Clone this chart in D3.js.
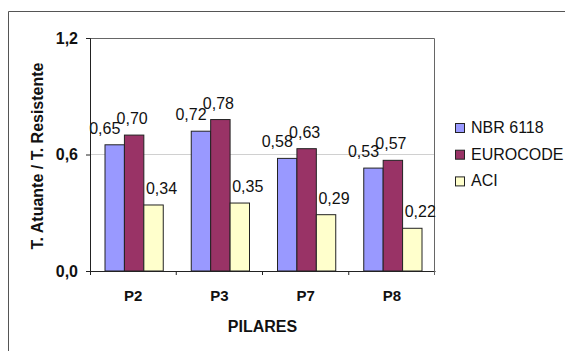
<!DOCTYPE html>
<html>
<head>
<meta charset="utf-8">
<script src="https://cdn.jsdelivr.net/npm/d3@7"></script>
<style>
  body { margin: 0; background: #fff; }
  text { font-family: "Liberation Sans", Arial, sans-serif; fill: #111; }
</style>
</head>
<body>
<div id="chart"></div>
<script>
// Chart data
const pilares = ["P2", "P3", "P7", "P8"];
const series = ["NBR 6118", "EUROCODE", "ACI"];
const nbr = [0.65, 0.72, 0.58, 0.53];
const eurocode = [0.70, 0.78, 0.63, 0.57];
const aci = [0.34, 0.35, 0.29, 0.22];
const yTicks = [0, 0.6, 1.2];

const colors = ["#9999FF", "#993366", "#FFFFCC"];
const labelDx = [-10, -2, 8];

const W = 565, H = 351;
const margin = { top: 38, left: 90, right: 130, bottom: 80 };
const width = 435 - margin.left;
const height = 271 - margin.top;

const svg = d3.select("#chart").append("svg")
    .attr("width", W)
    .attr("height", H);

// Outer frame (left and top edges visible)
svg.append("path")
    .attr("d", `M8.5,${H} L8.5,11.5 L${W},11.5`)
    .attr("fill", "none")
    .attr("stroke", "#555")
    .attr("stroke-width", 1);

const g = svg.append("g")
    .attr("transform", `translate(${margin.left},${margin.top})`);

const x0 = d3.scaleBand().domain(pilares).range([0, width]).paddingInner(0).paddingOuter(0);
const x1 = d3.scaleBand().domain(series).range([15, x0.bandwidth() - 13]);
const y = d3.scaleLinear().domain([0, 1.2]).range([height, 0]);

// Gridline
g.selectAll(".grid")
    .data(yTicks.filter(t => t > 0 && t < 1.2))
    .enter().append("line")
    .attr("x1", 0).attr("x2", width)
    .attr("y1", d => y(d)).attr("y2", d => y(d))
    .attr("stroke", "#d0d0d0");

// Plot frame (top & right)
g.append("path")
    .attr("d", `M0,0.5 H${width - 0.5} V${height}`)
    .attr("fill", "none")
    .attr("stroke", "#666");

const rows = pilares.map((p, i) => ({
    p, vals: [nbr[i], eurocode[i], aci[i]]
}));

const groups = g.selectAll(".grp")
    .data(rows).enter().append("g")
    .attr("transform", d => `translate(${x0(d.p)},0)`);

groups.selectAll("rect")
    .data(d => d.vals.map((v, k) => ({ v, k })))
    .enter().append("rect")
    .attr("x", d => x1(series[d.k]))
    .attr("y", d => y(d.v))
    .attr("width", x1.bandwidth())
    .attr("height", d => height - y(d.v))
    .attr("fill", d => colors[d.k])
    .attr("stroke", "#222")
    .attr("stroke-width", 1);

groups.selectAll(".lbl")
    .data(d => d.vals.map((v, k) => ({ v, k })))
    .enter().append("text")
    .attr("x", d => x1(series[d.k]) + x1.bandwidth() / 2 + labelDx[d.k])
    .attr("y", d => y(d.v) - 11)
    .attr("text-anchor", "middle")
    .style("font-size", "16px")
    .text(d => d3.format(".2f")(d.v).replace(".", ","));

// Y axis
const yAxis = g.append("g")
    .call(d3.axisLeft(y).tickValues(yTicks).tickSize(4).tickPadding(8)
        .tickFormat(d => d3.format(".1f")(d).replace(".", ",")));
yAxis.select(".domain").attr("stroke", "#222");
yAxis.selectAll(".tick line").attr("stroke", "#222");
yAxis.selectAll("text")
    .style("font-size", "16px")
    .style("font-weight", "bold")
    .style("font-family", "'Liberation Sans', Arial, sans-serif")
    .attr("fill", "#111");

// X axis
const xAxis = g.append("g")
    .attr("transform", `translate(0,${height})`)
    .call(d3.axisBottom(x0).tickSize(0).tickPadding(19));
xAxis.select(".domain").attr("stroke", "#222");
xAxis.selectAll("text")
    .style("font-size", "15px")
    .style("font-weight", "bold")
    .style("font-family", "'Liberation Sans', Arial, sans-serif")
    .attr("fill", "#111");

// category separator ticks
g.selectAll(".xsep")
    .data(pilares.slice(1))
    .enter().append("line")
    .attr("x1", d => x0(d)).attr("x2", d => x0(d))
    .attr("y1", height).attr("y2", height + 4)
    .attr("stroke", "#222");
g.append("line")
    .attr("x1", 0.5).attr("x2", 0.5)
    .attr("y1", height).attr("y2", height + 4)
    .attr("stroke", "#222");
g.append("line")
    .attr("x1", width - 0.5).attr("x2", width - 0.5)
    .attr("y1", height).attr("y2", height + 4)
    .attr("stroke", "#666");

// Axis titles
svg.append("text")
    .attr("x", margin.left + width / 2)
    .attr("y", 332)
    .attr("text-anchor", "middle")
    .style("font-size", "16px")
    .style("font-weight", "bold")
    .text("PILARES");

svg.append("text")
    .attr("transform", `translate(43,156) rotate(-90)`)
    .attr("text-anchor", "middle")
    .style("font-size", "16px")
    .style("font-weight", "bold")
    .text("T. Atuante / T. Resistente");

// Legend
const legend = svg.append("g").attr("transform", "translate(455,133)");
const li = legend.selectAll("g").data(series).enter().append("g")
    .attr("transform", (d, i) => `translate(0,${i * 26.7})`);
li.append("rect")
    .attr("x", 0.5).attr("y", -9.5)
    .attr("width", 9).attr("height", 9)
    .attr("fill", (d, i) => colors[i])
    .attr("stroke", "#222");
li.append("text")
    .attr("x", 16).attr("y", 0)
    .style("font-size", "16px")
    .text(d => d);
</script>
</body>
</html>
